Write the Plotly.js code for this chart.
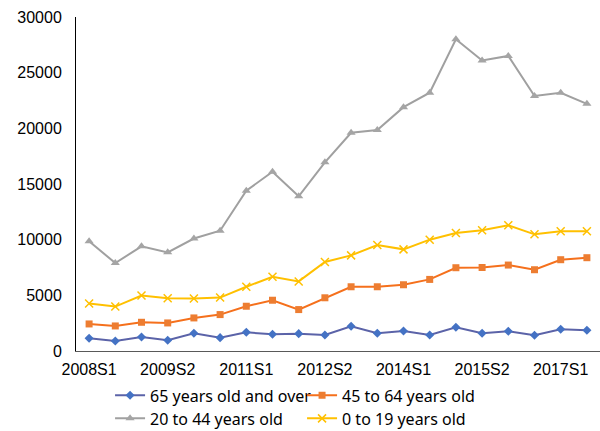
<!DOCTYPE html>
<html>
<head>
<meta charset="utf-8">
<script src="https://cdn.plot.ly/plotly-3.0.1.min.js"></script>
<style>
  html, body { margin: 0; padding: 0; background: #fff; }
  #chart { width: 600px; height: 431px; }
</style>
</head>
<body>
<div id="chart"></div>
<script>
// Half-year periods, 2008 first half to 2017 second half
const periods = [
  '2008S1','2008S2','2009S1','2009S2','2010S1','2010S2','2011S1','2011S2',
  '2012S1','2012S2','2013S1','2013S2','2014S1','2014S2','2015S1','2015S2',
  '2016S1','2016S2','2017S1','2017S2'
];

// Counts by age group
const age65plus = [1140, 900, 1260, 960, 1590, 1200, 1680, 1500, 1560, 1440,
                   2220, 1590, 1800, 1440, 2130, 1590, 1770, 1410, 1950, 1860];
const age45to64 = [2430, 2250, 2580, 2520, 2970, 3270, 4020, 4560, 3720, 4780,
                   5770, 5770, 5950, 6430, 7480, 7500, 7720, 7300, 8200, 8380];
const age20to44 = [9850, 7900, 9400, 8860, 10100, 10800, 14400, 16100, 13900, 16950,
                   19600, 19850, 21900, 23200, 28000, 26100, 26500, 22900, 23200, 22200];
const age0to19  = [4260, 3990, 4980, 4740, 4710, 4800, 5770, 6670, 6250, 8000,
                   8590, 9520, 9130, 10000, 10600, 10840, 11300, 10480, 10750, 10750];

const seriesNames = ['65 years old and over', '45 to 64 years old', '20 to 44 years old', '0 to 19 years old'];

// Every third period gets a label on the x axis
const xTickLabels = periods.filter((p, i) => i % 3 === 0);

const FONT = 'Liberation Sans, Arial, sans-serif';
const LEGEND_FONT = 'Noto Sans, sans-serif';

const traces = [
  {
    x: periods, y: age65plus, name: seriesNames[0], type: 'scatter', mode: 'lines+markers',
    line: { color: '#5B63A8', width: 2 },
    marker: { symbol: 'diamond', size: 7, color: '#4472C4' },
    legend: 'legend'
  },
  {
    x: periods, y: age45to64, name: seriesNames[1], type: 'scatter', mode: 'lines+markers',
    line: { color: '#F5701C', width: 2 },
    marker: { symbol: 'square', size: 7, color: '#ED7D31' },
    legend: 'legend'
  },
  {
    x: periods, y: age20to44, name: seriesNames[2], type: 'scatter', mode: 'lines+markers',
    line: { color: '#A0A0A0', width: 2 },
    marker: { symbol: 'triangle-up', size: 8, color: '#A5A5A5' },
    legend: 'legend2'
  },
  {
    x: periods, y: age0to19, name: seriesNames[3], type: 'scatter', mode: 'lines+markers',
    line: { color: '#FFC000', width: 2 },
    marker: { symbol: 'x-thin', size: 8, color: '#FFC000', line: { color: '#FFC000', width: 1.5 } },
    legend: 'legend2'
  }
];

const legendCommon = {
  orientation: 'h',
  xanchor: 'left',
  yanchor: 'middle',
  x: 0.065,
  font: { family: LEGEND_FONT, size: 16, color: '#000' },
  bgcolor: 'rgba(0,0,0,0)',
  entrywidth: 147,
  entrywidthmode: 'pixels',
  itemwidth: 30,
  traceorder: 'normal'
};

const layout = {
  width: 600,
  height: 431,
  margin: { l: 76, r: 0, t: 17, b: 80, autoexpand: false },
  paper_bgcolor: '#fff',
  plot_bgcolor: '#fff',
  showlegend: true,
  font: { family: FONT, size: 16, color: '#000' },
  xaxis: {
    type: 'category',
    range: [-0.5, periods.length - 0.5],
    tickvals: xTickLabels,
    ticktext: xTickLabels,
    showgrid: false,
    zeroline: false,
    showline: true,
    linecolor: '#595959',
    linewidth: 1,
    ticks: '',
    ticklabelstandoff: 4,
    tickfont: { family: FONT, size: 16, color: '#000' },
    fixedrange: true
  },
  yaxis: {
    range: [0, 30000],
    tickvals: [0, 5000, 10000, 15000, 20000, 25000, 30000],
    tickformat: 'd',
    showgrid: false,
    zeroline: false,
    showline: true,
    linecolor: '#000',
    linewidth: 1,
    ticks: '',
    ticklabelstandoff: 10,
    tickfont: { family: FONT, size: 16, color: '#000' },
    fixedrange: true
  },
  legend: Object.assign({}, legendCommon, { y: -0.133 }),
  legend2: Object.assign({}, legendCommon, { y: -0.202 })
};

Plotly.newPlot('chart', traces, layout, { displayModeBar: false, staticPlot: true });
</script>
</body>
</html>
